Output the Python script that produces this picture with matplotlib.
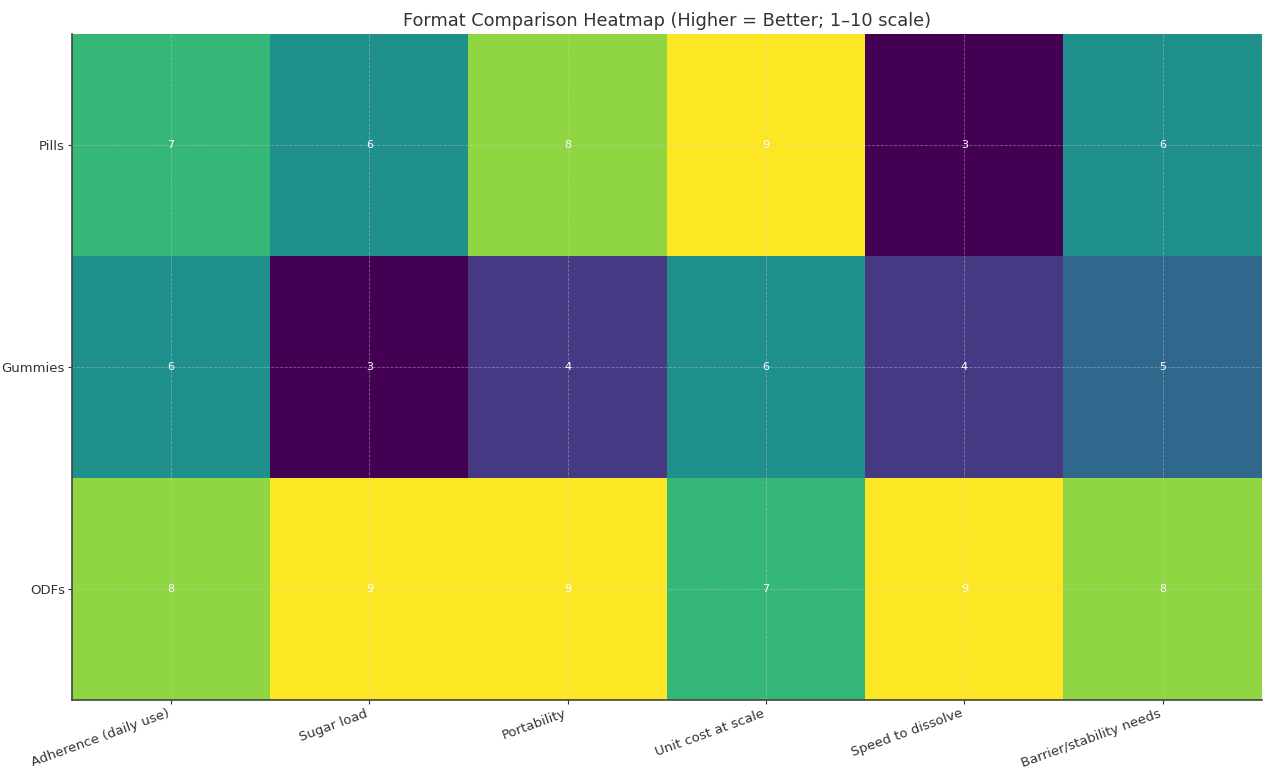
import numpy as np
import matplotlib.pyplot as plt

formats = ['Pills', 'Gummies', 'ODFs']
criteria = ['Adherence (daily use)', 'Sugar load', 'Portability',
            'Unit cost at scale', 'Speed to dissolve', 'Barrier/stability needs']
pills = [7, 6, 8, 9, 3, 6]
gummies = [6, 3, 4, 6, 4, 5]
odfs = [8, 9, 9, 7, 9, 8]

scores = np.array([pills, gummies, odfs])

fig = plt.figure(figsize=(12.74, 7.68), dpi=100)
ax = fig.add_axes([0.0565, 0.0885, 0.934, 0.867])
ax.imshow(scores, cmap='viridis', aspect='auto', vmin=3, vmax=9)

ax.set_xticks(range(len(criteria)))
ax.set_xticklabels(criteria, rotation=20, ha='right', fontsize=9.5, color='#333333')
ax.set_yticks(range(len(formats)))
ax.set_yticklabels(formats, fontsize=9.5, color='#333333')
ax.tick_params(colors='#333333', length=3, pad=2)

for i in range(scores.shape[0]):
    for j in range(scores.shape[1]):
        ax.text(j, i, str(scores[i, j]), ha='center', va='center',
                color='white', fontsize=8)

ax.grid(True, linestyle='--', linewidth=0.6, color='#cccccc', alpha=0.45)
for s in ['top', 'right']:
    ax.spines[s].set_visible(False)
for s in ['left', 'bottom']:
    ax.spines[s].set_color('#444444')
    ax.spines[s].set_linewidth(1.2)

ax.set_title('Format Comparison Heatmap (Higher = Better; 1–10 scale)',
             fontsize=12.8, color='#333333')

fig.savefig('out.png')
